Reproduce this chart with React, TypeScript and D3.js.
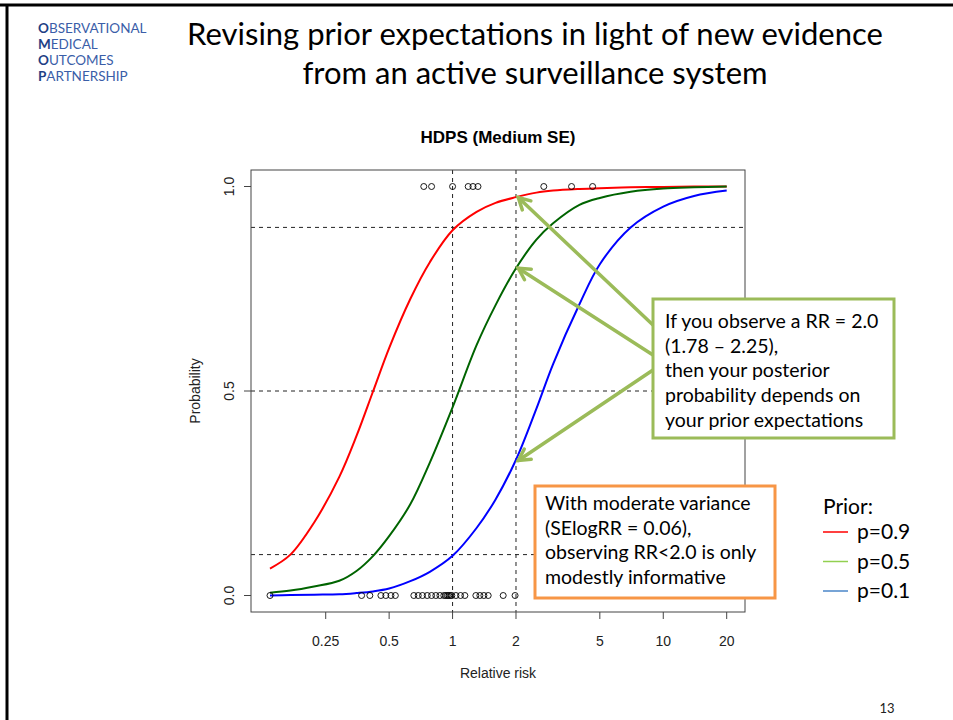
import React from 'react';
import * as d3 from 'd3';

// relative risk grid used for reading the three posterior curves
const rrGrid = [0.136, 0.17, 0.22, 0.29, 0.35, 0.42, 0.5, 0.63, 0.78, 1, 1.3, 1.6, 2, 2.5, 3, 4, 5, 7, 10, 14, 20];
const probPrior09 = [0.066, 0.1, 0.178, 0.29, 0.39, 0.5, 0.605, 0.725, 0.815, 0.893, 0.938, 0.96, 0.974, 0.985, 0.99, 0.994, 0.996, 0.998, 0.999, 1.0, 1.0];
const probPrior05 = [0.007, 0.012, 0.022, 0.036, 0.06, 0.097, 0.145, 0.223, 0.325, 0.46, 0.612, 0.71, 0.8, 0.87, 0.91, 0.955, 0.972, 0.987, 0.995, 0.998, 1.0];
const probPrior01 = [0.0, 0.001, 0.002, 0.003, 0.006, 0.01, 0.017, 0.035, 0.058, 0.097, 0.165, 0.235, 0.332, 0.457, 0.566, 0.712, 0.81, 0.9, 0.951, 0.977, 0.99];

// observed estimates shown as rugs at 1 and 0
const rrTop = [0.73, 0.795, 1.0, 1.186, 1.25, 1.32, 2.71, 3.67, 4.62];
const rrBottom = [0.136, 0.37, 0.405, 0.457, 0.482, 0.51, 0.535, 0.655, 0.687, 0.72, 0.758, 0.795, 0.833, 0.871,
  0.909, 0.929, 0.945, 0.96, 0.976, 0.992, 1.037, 1.091, 1.144, 1.29, 1.348, 1.408, 1.476, 1.739, 1.98];

const xTicks = [0.25, 0.5, 1, 2, 5, 10, 20];
const yTicks = [0, 0.5, 1];
const hRefs = [0.1, 0.5, 0.9];
const vRefs = [1, 2];

const seriesNames = ['p=0.9', 'p=0.5', 'p=0.1'];
const curveColors = ['#ff0000', '#006400', '#0000ff'];
const legendColors = ['#ff0000', '#92d050', '#4a86c8'];

const logoLines = ['OBSERVATIONAL', 'MEDICAL', 'OUTCOMES', 'PARTNERSHIP'];
const greenText = ['If you observe a RR = 2.0', '(1.78 \u2013 2.25),', 'then your posterior', 'probability depends on', 'your prior expectations'];
const orangeText = ['With moderate variance', '(SElogRR = 0.06),', 'observing RR<2.0 is only', 'modestly informative'];

const W = 953;
const H = 720;
const box = { left: 251, right: 745, top: 170, bottom: 612 };

const slideFont = 'Lato, "Open Sans", sans-serif';
const rFont = '"Liberation Sans", Arial, sans-serif';

const App = () => {
  const x = d3.scaleLog().domain([0.136, 20]).range([270, 726.7]);
  const y = d3.scaleLinear().domain([0, 1]).range([595.5, 186.5]);

  const line = d3.line<[number, number]>()
    .x(d => x(d[0]))
    .y(d => y(d[1]))
    .curve(d3.curveCatmullRom.alpha(0.5));

  const series = [probPrior09, probPrior05, probPrior01];

  // arrows from the green callout to the curves at RR = 2
  const arrows = [
    { from: [653, 325], to: [518.3, y(0.973)] },
    { from: [653, 355], to: [518.3, y(0.8)] },
    { from: [653, 370], to: [518.3, y(0.33)] },
  ];

  const arrowHead = (fx: number, fy: number, tx: number, ty: number) => {
    const a = Math.atan2(fy - ty, fx - tx);
    const len = 13;
    const spread = 0.5;
    const p1 = [tx + len * Math.cos(a + spread), ty + len * Math.sin(a + spread)];
    const p2 = [tx + len * Math.cos(a - spread), ty + len * Math.sin(a - spread)];
    return `M${p1[0]},${p1[1]}L${tx},${ty}L${p2[0]},${p2[1]}`;
  };

  return (
    <svg width={W} height={H} style={{ position: 'absolute', left: 0, top: 0, background: '#fff' }}>
      {/* slide frame */}
      <line x1={0} x2={W} y1={5} y2={5} stroke="#000" strokeWidth={3} />
      <line x1={7} x2={7} y1={5} y2={H} stroke="#000" strokeWidth={3} />

      {/* logo */}
      {logoLines.map((t, i) => (
        <text key={t} x={38} y={33 + i * 16} fontFamily={slideFont} fontSize={13.5} fill="#3a5ea8">
          <tspan fontWeight="bold" fill="#1f3f85">{t[0]}</tspan>{t.slice(1)}
        </text>
      ))}

      {/* slide title */}
      <text x={535} y={45} textAnchor="middle" fontFamily={slideFont} fontSize={31} fill="#000">
        Revising prior expectations in light of new evidence
      </text>
      <text x={535} y={84} textAnchor="middle" fontFamily={slideFont} fontSize={31} fill="#000">
        from an active surveillance system
      </text>

      {/* plot title */}
      <text x={(box.left + box.right) / 2} y={143} textAnchor="middle" fontFamily={rFont} fontSize={17} fontWeight="bold">
        HDPS (Medium SE)
      </text>

      {/* reference lines */}
      {hRefs.map(v => (
        <line key={'h' + v} x1={box.left} x2={box.right} y1={y(v)} y2={y(v)} stroke="#222" strokeDasharray="4,4" strokeWidth={1} />
      ))}
      {vRefs.map(v => (
        <line key={'v' + v} x1={x(v)} x2={x(v)} y1={box.top} y2={box.bottom} stroke="#222" strokeDasharray="4,4" strokeWidth={1} />
      ))}

      {/* curves */}
      {series.map((s, i) => (
        <path key={seriesNames[i]} d={line(rrGrid.map((r, j) => [r, s[j]]))!} fill="none" stroke={curveColors[i]} strokeWidth={2} />
      ))}

      {/* rug points */}
      {rrTop.map((r, i) => (
        <circle key={'t' + i} cx={x(r)} cy={y(1)} r={3} fill="none" stroke="#000" strokeWidth={0.9} />
      ))}
      {rrBottom.map((r, i) => (
        <circle key={'b' + i} cx={x(r)} cy={y(0)} r={3} fill="none" stroke="#000" strokeWidth={0.9} />
      ))}

      {/* plot box */}
      <rect x={box.left} y={box.top} width={box.right - box.left} height={box.bottom - box.top} fill="none" stroke="#444" strokeWidth={1} />

      {/* x axis */}
      {xTicks.map(t => (
        <g key={'xt' + t}>
          <line x1={x(t)} x2={x(t)} y1={box.bottom} y2={box.bottom + 7} stroke="#444" />
          <text x={x(t)} y={646} textAnchor="middle" fontFamily={rFont} fontSize={14} fill="#222">{t}</text>
        </g>
      ))}
      <text x={(box.left + box.right) / 2} y={678} textAnchor="middle" fontFamily={rFont} fontSize={14} fill="#222">Relative risk</text>

      {/* y axis */}
      {yTicks.map(t => (
        <g key={'yt' + t}>
          <line x1={box.left - 7} x2={box.left} y1={y(t)} y2={y(t)} stroke="#444" />
          <text transform={`translate(234,${y(t)}) rotate(-90)`} textAnchor="middle" fontFamily={rFont} fontSize={14} fill="#222">{t.toFixed(1)}</text>
        </g>
      ))}
      <text transform={`translate(200,${y(0.5)}) rotate(-90)`} textAnchor="middle" fontFamily={rFont} fontSize={14} fill="#222">Probability</text>

      {/* arrows */}
      {arrows.map((a, i) => (
        <g key={'a' + i} stroke="#9bbb59" strokeWidth={3.5} fill="none" strokeLinecap="round">
          <line x1={a.from[0]} y1={a.from[1]} x2={a.to[0]} y2={a.to[1]} />
          <path d={arrowHead(a.from[0], a.from[1], a.to[0], a.to[1])} />
        </g>
      ))}

      {/* green callout */}
      <rect x={653} y={299} width={241} height={139} fill="#fff" stroke="#9bbb59" strokeWidth={3} />
      {greenText.map((t, i) => (
        <text key={t} x={665} y={328 + i * 24.7} fontFamily={slideFont} fontSize={19.5} fill="#000">{t}</text>
      ))}

      {/* orange callout */}
      <rect x={535} y={486} width={240} height={112} fill="#fff" stroke="#f79646" strokeWidth={3} />
      {orangeText.map((t, i) => (
        <text key={t} x={545} y={510 + i * 24.7} fontFamily={slideFont} fontSize={19.5} fill="#000">{t}</text>
      ))}

      {/* legend */}
      <text x={823} y={514} fontFamily={slideFont} fontSize={21} fill="#000">Prior:</text>
      {seriesNames.map((n, i) => (
        <g key={'lg' + n}>
          <line x1={823} x2={848} y1={532 + i * 29.5} y2={532 + i * 29.5} stroke={legendColors[i]} strokeWidth={1.5} />
          <text x={857} y={539 + i * 29.5} fontFamily={slideFont} fontSize={21} fill="#000">{n}</text>
        </g>
      ))}

      {/* page number */}
      <text x={887} y={713} textAnchor="middle" fontFamily={slideFont} fontSize={13} fill="#222">13</text>
    </svg>
  );
};

export default App;
